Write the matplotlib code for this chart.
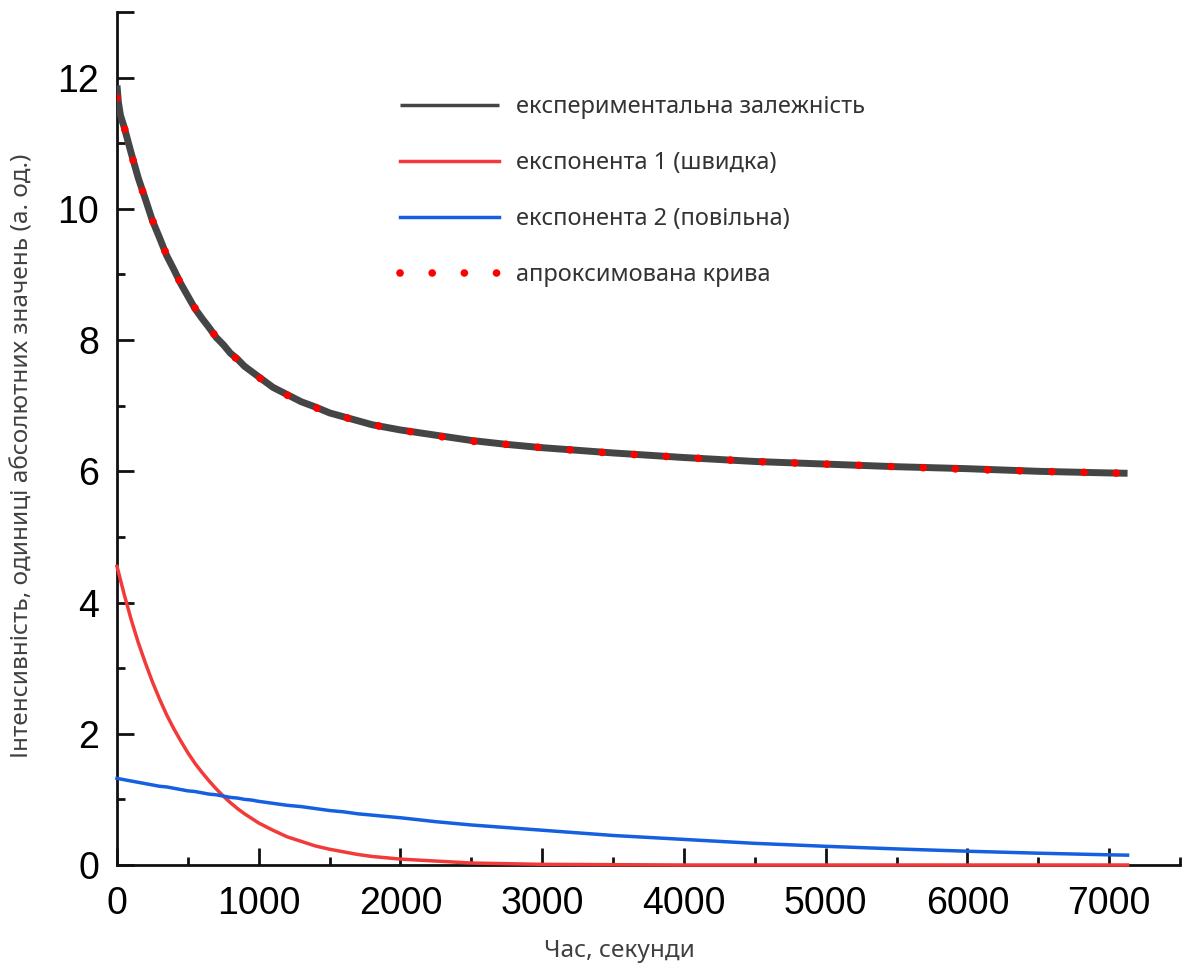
import numpy as np
import matplotlib
matplotlib.use('Agg')
import matplotlib.pyplot as plt
from matplotlib.ticker import MultipleLocator, FixedLocator

# time, s
t = [0, 50, 100, 150, 200, 250, 300, 350, 400, 450, 500, 550, 600, 650, 700,
     750, 800, 850, 900, 950, 1000, 1100, 1200, 1300, 1400, 1500, 1600, 1700,
     1800, 1900, 2000, 2250, 2500, 2750, 3000, 3500, 4000, 4500, 5000, 5500,
     6000, 6500, 7000, 7130]

# fitted curve
y_fit = [11.69, 11.25, 10.84, 10.47, 10.14, 9.83, 9.55, 9.30, 9.07, 8.86, 8.66,
         8.49, 8.33, 8.18, 8.05, 7.92, 7.80, 7.70, 7.60, 7.52, 7.43, 7.29, 7.16,
         7.07, 6.97, 6.89, 6.83, 6.76, 6.71, 6.67, 6.63, 6.54, 6.46, 6.41, 6.36,
         6.275, 6.21, 6.15, 6.11, 6.07, 6.03, 6.00, 5.975, 5.97]

# experimental dependence (starts with a short spike)
t_exp = [0, 10, 25] + t[1:]
y_exp = [11.88, 11.62, 11.42, 11.25, 10.85, 10.47, 10.15, 9.82, 9.56, 9.29, 9.08,
         8.86, 8.67, 8.48, 8.33, 8.19, 8.04, 7.93, 7.80, 7.71, 7.60, 7.52, 7.44,
         7.28, 7.17, 7.06, 6.98, 6.89, 6.83, 6.77, 6.71, 6.67, 6.63, 6.55, 6.47,
         6.41, 6.36, 6.28, 6.21, 6.15, 6.11, 6.07, 6.04, 6.00, 5.975, 5.97]

# fast exponent
y_e1 = [4.55, 4.13, 3.74, 3.39, 3.08, 2.79, 2.53, 2.29, 2.08, 1.89, 1.71, 1.55,
        1.41, 1.28, 1.16, 1.05, 0.95, 0.86, 0.78, 0.71, 0.64, 0.53, 0.43, 0.36,
        0.29, 0.24, 0.20, 0.16, 0.13, 0.11, 0.09, 0.06, 0.03, 0.02, 0.01, 0.005,
        0, 0, 0, 0, 0, 0, 0, 0]

# slow exponent
y_e2 = [1.32, 1.30, 1.28, 1.26, 1.24, 1.22, 1.20, 1.19, 1.17, 1.15, 1.13, 1.12,
        1.10, 1.08, 1.07, 1.05, 1.03, 1.02, 1.00, 0.99, 0.97, 0.94, 0.91, 0.89,
        0.86, 0.83, 0.81, 0.78, 0.76, 0.74, 0.72, 0.66, 0.61, 0.57, 0.53, 0.45,
        0.39, 0.33, 0.285, 0.245, 0.21, 0.18, 0.155, 0.15]

labels = ["експериментальна залежність", "експонента 1 (швидка)",
          "експонента 2 (повільна)", "апроксимована крива"]

fig = plt.figure(figsize=(11.85, 9.73), dpi=100)
ax = fig.add_axes([117/1185, 108/973, 1063/1185, 853/973])

ax.plot(t_exp, y_exp, color='#454545', lw=5, label=labels[0], zorder=3,
        solid_capstyle='butt')
ax.plot(t, y_e1, color='#f23a3a', lw=2.5, label=labels[1], zorder=4, clip_on=False)
ax.plot(t, y_e2, color='#1560e0', lw=2.5, label=labels[2], zorder=4, clip_on=False)
ax.plot(t, y_fit, color='#ff0000', lw=5.5, ls=(0, (0.01, 4.2)),
        dash_capstyle='round', label=labels[3], zorder=5)

ax.set_xlim(0, 7500)
ax.set_ylim(0, 13)
ax.xaxis.set_major_locator(MultipleLocator(1000))
ax.xaxis.set_minor_locator(MultipleLocator(500))
ax.yaxis.set_major_locator(FixedLocator([0, 2, 4, 6, 8, 10, 12, 13]))
ax.yaxis.set_minor_locator(FixedLocator([1, 3, 5, 7, 9, 11]))
ax.set_yticklabels(['0', '2', '4', '6', '8', '10', '12', ''])

for s in ['top', 'right']:
    ax.spines[s].set_visible(False)
for s in ['left', 'bottom']:
    ax.spines[s].set_linewidth(2)
    ax.spines[s].set_color('#111111')

ax.tick_params(which='major', direction='in', length=12, width=2, color='#111111')
ax.tick_params(which='minor', direction='in', length=6, width=2, color='#111111')
ax.tick_params(axis='y', which='major', pad=13)
ax.tick_params(axis='x', which='major', pad=15)
for lab in ax.get_xticklabels() + ax.get_yticklabels():
    lab.set_fontfamily('Liberation Sans')
    lab.set_fontsize(27)

ax.set_xlabel("Час, секунди", fontfamily='Noto Sans', fontsize=17.5, color='#404040')
ax.set_ylabel("Інтенсивність, одиниці абсолютних значень (а. од.)",
              fontfamily='Noto Sans', fontsize=17.5, color='#404040')
ax.xaxis.set_label_coords(0.473, -0.087)
ax.yaxis.set_label_coords(-0.078, 0.48)

leg = ax.legend(loc='upper left', bbox_to_anchor=(400/1185, 1 - 95/973),
                bbox_transform=fig.transFigure, frameon=False, borderpad=0,
                borderaxespad=0, handlelength=4.2, handletextpad=0.7,
                labelspacing=1.36, prop={'family': 'Noto Sans', 'size': 17})
for txt in leg.get_texts():
    txt.set_color('#333333')
for h in leg.legend_handles[:3]:
    h.set_linewidth(2.5)

fig.savefig('out.png', dpi=100)
